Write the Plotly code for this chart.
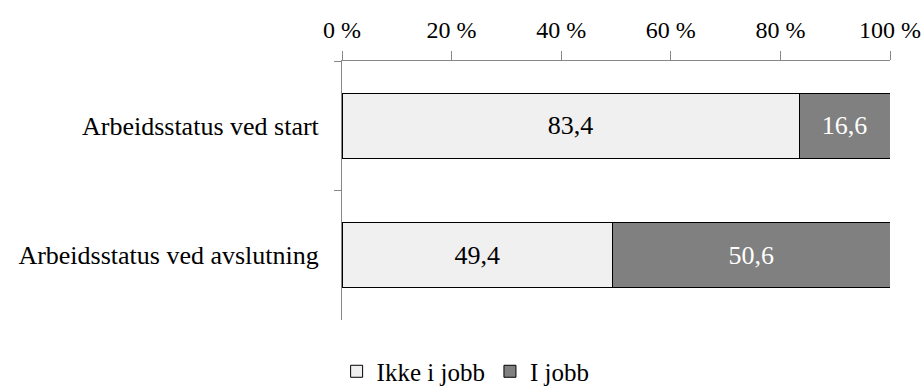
import plotly.graph_objects as go

categories = ["Arbeidsstatus ved start", "Arbeidsstatus ved avslutning"]
ikke_i_jobb = [83.4, 49.4]
i_jobb = [16.6, 50.6]
tick_values = [0, 20, 40, 60, 80, 100]

font_family = "Liberation Serif, Times New Roman, serif"
axis_color = "#878787"

fig = go.Figure()
fig.add_trace(go.Bar(
    y=categories, x=ikke_i_jobb, orientation="h", name="Ikke i jobb",
    marker=dict(color="#F0F0F0", line=dict(color="#000000", width=1)),
    text=ikke_i_jobb, texttemplate="%{x:.1f}", textposition="inside",
    insidetextanchor="middle", textfont=dict(color="#000000", size=26, family=font_family),
    width=0.5,
))
fig.add_trace(go.Bar(
    y=categories, x=i_jobb, orientation="h", name="I jobb",
    marker=dict(color="#808080", line=dict(color="#000000", width=1)),
    text=i_jobb, texttemplate="%{x:.1f}", textposition="inside",
    insidetextanchor="middle", textfont=dict(color="#FFFFFF", size=26, family=font_family),
    width=0.5,
))

fig.update_layout(
    barmode="stack",
    width=922, height=387,
    margin=dict(l=342, r=32, t=61, b=67, autoexpand=False),
    paper_bgcolor="white", plot_bgcolor="white",
    separators=", ",
    font=dict(family=font_family, size=25, color="#000000"),
    showlegend=True,
    legend=dict(
        orientation="h", xref="container", yref="container",
        x=0.505, xanchor="center", y=0.04, yanchor="middle",
        font=dict(size=25), traceorder="normal",
        itemwidth=30,
    ),
    uniformtext=dict(mode=False),
)
fig.update_xaxes(
    side="top", range=[0, 100], tickvals=tick_values,
    ticktext=[f"{v} %" for v in tick_values],
    showgrid=False, zeroline=False, automargin=False,
    showline=True, linecolor=axis_color, linewidth=1,
    ticks="outside", ticklen=9, tickcolor=axis_color, tickwidth=1,
    ticklabelstandoff=3,
    tickfont=dict(size=24),
)
fig.update_yaxes(
    autorange="reversed", tickson="boundaries",
    showgrid=False, zeroline=False, automargin=False,
    showline=True, linecolor=axis_color, linewidth=1,
    ticks="outside", ticklen=7, tickcolor=axis_color, tickwidth=1,
    ticklabelstandoff=17,
    tickfont=dict(size=26),
)

fig.write_html("out.html")
